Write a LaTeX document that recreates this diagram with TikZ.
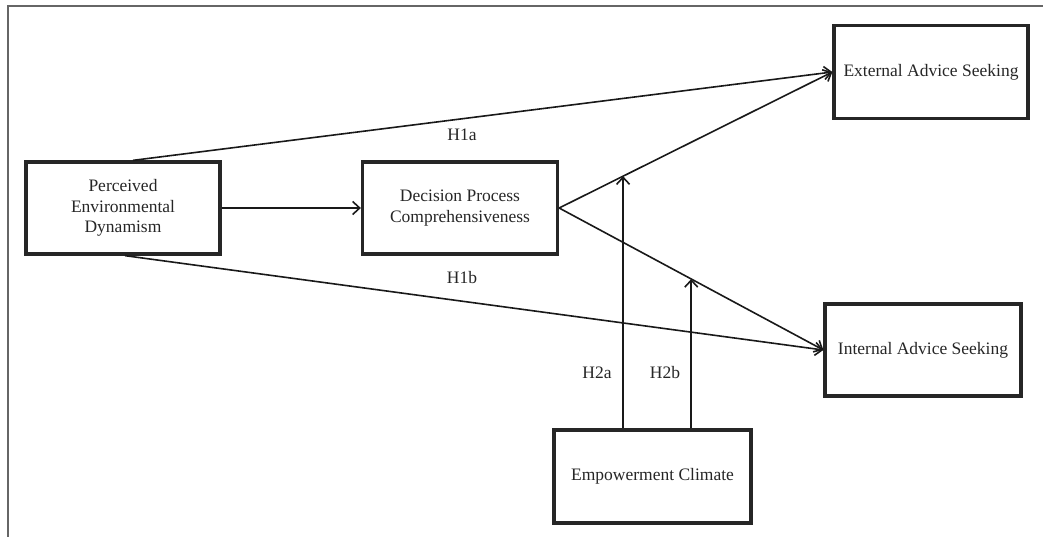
\documentclass[tikz,border=0pt]{standalone}
\usepackage{fontspec}
\setmainfont{Liberation Serif}
\usetikzlibrary{arrows.meta,calc}
\begin{document}
\begin{tikzpicture}[x=1pt,y=-1pt,
  box/.style={draw=black!85,line width=3.3pt,rectangle,align=center,inner sep=0pt,
    font=\fontsize{17.5}{20.5}\selectfont,text=black!85},
  arr/.style={line width=1.6pt,draw=black!90,-{Straight Barb[length=7pt,width=13pt,line width=1.6pt]}},
  lbl/.style={font=\fontsize{17.5}{20}\selectfont,text=black!85,inner sep=0pt}]
\useasboundingbox (0,0) rectangle (1043,536);
\draw[black!60,line width=1.7pt] (8,537) -- (8,6) -- (1044,6);
\node[box,minimum width=194pt,minimum height=92pt] (ped) at (123,208) {Perceived\\Environmental\\Dynamism};
\node[box,minimum width=195pt,minimum height=92pt] (dpc) at (460,208) {Decision Process\\Comprehensiveness};
\node[box,minimum width=194pt,minimum height=93pt] (eas) at (931,72) {External Advice Seeking};
\node[box,minimum width=196pt,minimum height=92pt] (ias) at (923,350) {Internal Advice Seeking};
\node[box,minimum width=197pt,minimum height=93pt] (ec) at (652.5,476.5) {Empowerment Climate};
\draw[arr] (ped.east) -- (dpc.west);
\draw[arr] ([xshift=10pt]ped.north) -- (eas.west);
\draw[arr] (dpc.east) -- (eas.west);
\draw[arr] ([xshift=2pt]ped.south) -- (ias.west);
\draw[arr] (dpc.east) -- (ias.west);
\coordinate (h2a) at ($(dpc.east)!0.234!(eas.west)$);
\coordinate (h2b) at ($(dpc.east)!0.5!(ias.west)$);
\draw[arr] (h2a |- ec.north) -- (h2a);
\draw[arr] (h2b |- ec.north) -- (h2b);
\node[lbl] (l1a) at (462,135) {H1a};
\node[lbl] (l1b) at (462,278) {H1b};
\node[lbl] (l2a) at (597,373) {H2a};
\node[lbl] (l2b) at (665,373) {H2b};
\end{tikzpicture}
\end{document}
